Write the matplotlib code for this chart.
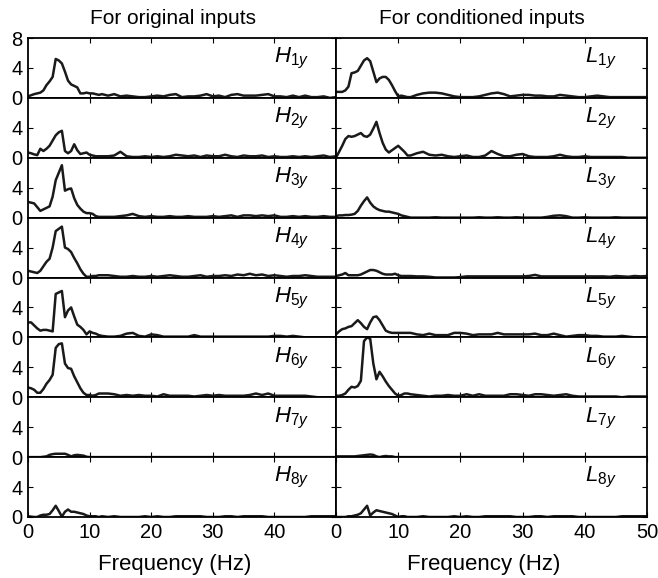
import numpy as np
import matplotlib
matplotlib.use("Agg")
import matplotlib.pyplot as plt

plt.rcParams['font.family'] = ['Liberation Sans', 'DejaVu Sans']
plt.rcParams['mathtext.fontset'] = 'custom'
plt.rcParams['mathtext.rm'] = 'Liberation Sans'
plt.rcParams['mathtext.it'] = 'Liberation Sans:italic'

# 0.5 Hz steps up to 12 Hz, 1 Hz steps after that
freq = np.concatenate([np.arange(0, 12.5, 0.5), np.arange(13, 51)])

# original inputs
h1 = [0.2, 0.35, 0.5, 0.6, 0.7, 1.0, 1.7, 2.2, 2.8, 5.2, 5.0, 4.6, 3.5, 2.3, 1.8, 1.6, 1.4, 0.6, 0.6, 0.7, 0.6, 0.6, 0.5, 0.4, 0.5,
      0.3, 0.5, 0.2, 0.3, 0.2, 0.1, 0.1, 0.2, 0.3, 0.2, 0.4, 0.5, 0.1, 0.2, 0.2, 0.3, 0.5, 0.2, 0.3, 0.1,
      0.4, 0.5, 0.3, 0.3, 0.3, 0.4, 0.5, 0.2, 0.2, 0.1, 0.3, 0.1, 0.3, 0.1, 0.1, 0.2, 0.0, 0.1]
h2 = [0.7, 0.6, 0.45, 0.35, 1.2, 0.9, 1.2, 1.6, 2.3, 3.0, 3.4, 3.6, 0.9, 0.6, 0.9, 1.8, 1.0, 0.5, 0.6, 0.7, 0.4, 0.3, 0.2, 0.2, 0.2,
      0.2, 0.3, 0.8, 0.2, 0.1, 0.1, 0.2, 0.1, 0.2, 0.1, 0.2, 0.4, 0.3, 0.2, 0.3, 0.1, 0.3, 0.2, 0.2, 0.4,
      0.2, 0.1, 0.3, 0.2, 0.2, 0.3, 0.1, 0.2, 0.1, 0.1, 0.2, 0.1, 0.2, 0.1, 0.2, 0.3, 0.1, 0.2]
h3 = [2.1, 2.0, 1.9, 1.4, 0.9, 1.1, 1.3, 1.5, 2.8, 5.0, 6.0, 7.0, 3.6, 3.8, 3.9, 2.6, 1.7, 1.2, 0.8, 0.6, 0.6, 0.5, 0.2, 0.1, 0.1,
      0.1, 0.1, 0.2, 0.3, 0.5, 0.2, 0.1, 0.2, 0.1, 0.1, 0.2, 0.1, 0.1, 0.2, 0.1, 0.1, 0.1, 0.2, 0.1, 0.2,
      0.3, 0.1, 0.3, 0.3, 0.2, 0.3, 0.2, 0.3, 0.1, 0.1, 0.2, 0.1, 0.2, 0.1, 0.1, 0.2, 0.1, 0.1]
h4 = [0.9, 0.8, 0.7, 0.6, 0.9, 1.5, 2.1, 2.5, 4.0, 6.2, 6.5, 6.8, 4.0, 3.8, 3.4, 2.6, 1.9, 1.1, 0.5, 0.1, 0.1, 0.2, 0.2, 0.3, 0.3,
      0.3, 0.2, 0.1, 0.1, 0.2, 0.1, 0.1, 0.2, 0.1, 0.2, 0.3, 0.2, 0.1, 0.1, 0.2, 0.3, 0.1, 0.2, 0.2, 0.3,
      0.2, 0.4, 0.3, 0.5, 0.3, 0.4, 0.2, 0.3, 0.2, 0.1, 0.2, 0.2, 0.3, 0.2, 0.1, 0.1, 0.1, 0.1]
h5 = [2.0, 2.0, 1.6, 1.2, 0.9, 1.0, 1.0, 0.9, 0.8, 5.8, 6.0, 6.2, 2.7, 3.6, 4.0, 2.8, 1.7, 1.4, 1.0, 0.4, 0.8, 0.6, 0.5, 0.3, 0.2,
      0.1, 0.1, 0.2, 0.5, 0.6, 0.2, 0.1, 0.4, 0.3, 0.1, 0.1, 0.1, 0.1, 0.1, 0.3, 0.1, 0.1, 0.1, 0.1, 0.1,
      0.1, 0.1, 0.1, 0.1, 0.1, 0.1, 0.1, 0.2, 0.2, 0.1, 0.2, 0.1, 0.0, 0.0, 0.0, 0.0, 0.0, 0.0]
h6 = [1.3, 1.2, 1.0, 0.6, 0.6, 1.1, 1.8, 2.3, 3.0, 6.6, 7.1, 7.2, 4.5, 3.9, 3.8, 2.8, 2.0, 1.2, 0.6, 0.3, 0.3, 0.2, 0.3, 0.5, 0.5,
      0.5, 0.4, 0.2, 0.3, 0.2, 0.3, 0.2, 0.2, 0.1, 0.4, 0.2, 0.2, 0.2, 0.2, 0.1, 0.2, 0.3, 0.2, 0.3, 0.2,
      0.2, 0.2, 0.2, 0.3, 0.5, 0.3, 0.5, 0.2, 0.2, 0.2, 0.2, 0.2, 0.2, 0.1, 0.0, 0.0, 0.0, 0.0]
h7 = [0.0, 0.0, 0.0, 0.0, 0.0, 0.05, 0.1, 0.3, 0.4, 0.45, 0.45, 0.45, 0.45, 0.3, 0.1, 0.25, 0.3, 0.25, 0.2, 0.05, 0.0, 0.0, 0.0, 0.0, 0.0,
      0.0, 0.0, 0.0, 0.0, 0.0, 0.0, 0.0, 0.0, 0.0, 0.0, 0.0, 0.0, 0.0, 0.0, 0.0, 0.0, 0.0, 0.0, 0.0, 0.0,
      0.0, 0.0, 0.0, 0.0, 0.0, 0.0, 0.0, 0.0, 0.0, 0.0, 0.0, 0.0, 0.0, 0.0, 0.0, 0.0, 0.0, 0.0]
h8 = [0.1, 0.05, 0.0, 0.0, 0.2, 0.3, 0.3, 0.4, 0.9, 1.5, 0.8, 0.05, 0.7, 1.0, 0.7, 0.7, 0.6, 0.5, 0.4, 0.2, 0.1, 0.1, 0.1, 0.0, 0.1,
      0.0, 0.1, 0.0, 0.0, 0.0, 0.0, 0.1, 0.0, 0.1, 0.0, 0.0, 0.1, 0.1, 0.1, 0.1, 0.1, 0.0, 0.0, 0.0, 0.1,
      0.1, 0.0, 0.1, 0.1, 0.1, 0.1, 0.0, 0.0, 0.0, 0.0, 0.0, 0.0, 0.0, 0.1, 0.1, 0.1, 0.1, 0.1]

# conditioned inputs
l1 = [0.8, 0.8, 0.8, 1.0, 1.5, 3.3, 3.4, 3.6, 4.3, 5.0, 5.3, 4.9, 3.5, 2.1, 2.6, 2.8, 2.8, 2.4, 1.7, 0.9, 0.2, 0.3, 0.2, 0.1, 0.1,
      0.4, 0.6, 0.7, 0.7, 0.6, 0.4, 0.2, 0.1, 0.1, 0.1, 0.2, 0.4, 0.6, 0.7, 0.5, 0.2, 0.3, 0.4, 0.4, 0.3,
      0.3, 0.2, 0.2, 0.4, 0.3, 0.2, 0.1, 0.1, 0.2, 0.3, 0.2, 0.1, 0.1, 0.1, 0.1, 0.1, 0.1, 0.1]
l2 = [0.0, 0.8, 1.6, 2.5, 2.9, 2.8, 2.9, 3.1, 3.3, 2.9, 2.8, 3.1, 3.9, 4.8, 3.3, 2.0, 1.1, 0.7, 1.0, 1.3, 1.6, 1.2, 0.8, 0.3, 0.3,
      0.6, 0.8, 0.4, 0.3, 0.4, 0.2, 0.1, 0.2, 0.3, 0.1, 0.1, 0.3, 0.9, 0.5, 0.2, 0.2, 0.4, 0.5, 0.2, 0.1,
      0.1, 0.1, 0.2, 0.4, 0.2, 0.1, 0.1, 0.2, 0.1, 0.1, 0.1, 0.1, 0.1, 0.1, 0.0, 0.0, 0.0, 0.0]
l3 = [0.2, 0.3, 0.3, 0.35, 0.35, 0.4, 0.5, 0.9, 1.6, 2.2, 2.7, 2.0, 1.5, 1.2, 1.0, 0.9, 0.8, 0.8, 0.7, 0.6, 0.5, 0.3, 0.2, 0.1, 0.0,
      0.0, 0.0, 0.0, 0.05, 0.0, 0.0, 0.0, 0.0, 0.0, 0.0, 0.05, 0.0, 0.0, 0.05, 0.0, 0.0, 0.05, 0.0, 0.0, 0.0,
      0.0, 0.1, 0.25, 0.3, 0.2, 0.0, 0.0, 0.05, 0.0, 0.0, 0.0, 0.0, 0.05, 0.0, 0.0, 0.0, 0.0, 0.0]
l4 = [0.2, 0.3, 0.4, 0.6, 0.3, 0.3, 0.3, 0.3, 0.4, 0.6, 0.8, 1.0, 1.0, 0.9, 0.7, 0.5, 0.4, 0.4, 0.4, 0.5, 0.3, 0.2, 0.2, 0.2, 0.2,
      0.15, 0.15, 0.1, 0.0, 0.0, 0.0, 0.0, 0.05, 0.15, 0.15, 0.15, 0.15, 0.15, 0.15, 0.15, 0.15, 0.15, 0.15, 0.2, 0.35,
      0.15, 0.15, 0.15, 0.15, 0.15, 0.15, 0.15, 0.15, 0.15, 0.15, 0.15, 0.1, 0.2, 0.15, 0.1, 0.2, 0.15, 0.2]
l5 = [0.4, 0.8, 1.1, 1.2, 1.4, 1.5, 1.9, 2.3, 1.9, 1.4, 1.1, 2.0, 2.7, 2.8, 2.3, 1.6, 0.9, 0.7, 0.6, 0.6, 0.6, 0.6, 0.6, 0.6, 0.6,
      0.4, 0.3, 0.5, 0.3, 0.3, 0.3, 0.6, 0.6, 0.5, 0.3, 0.4, 0.4, 0.4, 0.6, 0.4, 0.4, 0.4, 0.4, 0.4, 0.5,
      0.3, 0.3, 0.5, 0.3, 0.1, 0.2, 0.3, 0.3, 0.2, 0.2, 0.1, 0.1, 0.1, 0.2, 0.1, 0.0, 0.0, 0.0]
l6 = [0.2, 0.2, 0.3, 0.5, 1.0, 1.4, 1.3, 1.5, 2.2, 7.5, 8.0, 7.8, 4.5, 2.4, 3.4, 2.8, 2.1, 1.5, 1.0, 0.5, 0.2, 0.3, 0.5, 0.5, 0.4,
      0.3, 0.2, 0.1, 0.2, 0.2, 0.3, 0.2, 0.2, 0.4, 0.2, 0.4, 0.2, 0.2, 0.2, 0.2, 0.4, 0.4, 0.3, 0.2, 0.4,
      0.4, 0.3, 0.2, 0.3, 0.4, 0.2, 0.1, 0.1, 0.1, 0.1, 0.1, 0.1, 0.1, 0.0, 0.1, 0.1, 0.1, 0.1]
l7 = [0.1, 0.1, 0.1, 0.1, 0.1, 0.1, 0.1, 0.15, 0.2, 0.25, 0.3, 0.35, 0.3, 0.1, 0.0, 0.1, 0.15, 0.1, 0.1, 0.0, 0.0, 0.0, 0.0, 0.0, 0.0,
      0.0, 0.0, 0.0, 0.0, 0.0, 0.0, 0.0, 0.0, 0.0, 0.0, 0.0, 0.0, 0.0, 0.0, 0.0, 0.0, 0.0, 0.0, 0.0, 0.0,
      0.0, 0.0, 0.0, 0.0, 0.0, 0.0, 0.0, 0.0, 0.0, 0.0, 0.0, 0.0, 0.0, 0.0, 0.0, 0.0, 0.0, 0.0]
l8 = [0.0, 0.0, 0.0, 0.0, 0.1, 0.1, 0.2, 0.3, 0.5, 1.0, 1.5, 0.2, 0.6, 0.9, 0.8, 0.7, 0.6, 0.5, 0.4, 0.2, 0.0, 0.1, 0.1, 0.0, 0.0,
      0.0, 0.1, 0.0, 0.0, 0.0, 0.0, 0.1, 0.0, 0.1, 0.0, 0.0, 0.1, 0.1, 0.1, 0.1, 0.1, 0.0, 0.0, 0.0, 0.1,
      0.1, 0.0, 0.1, 0.1, 0.1, 0.1, 0.0, 0.0, 0.0, 0.0, 0.0, 0.0, 0.0, 0.1, 0.1, 0.1, 0.1, 0.1]

orig = [h1, h2, h3, h4, h5, h6, h7, h8]
cond = [l1, l2, l3, l4, l5, l6, l7, l8]
titles = ['For original inputs', 'For conditioned inputs']
letters = ['H', 'L']

W, H = 658, 578
fig = plt.figure(figsize=(W / 100, H / 100), dpi=100)

top_px, bot_px = 38, 517
row_h = (bot_px - top_px) / 8
cols = [(28, 308), (336, 311)]

for c, (series, letter) in enumerate(zip([orig, cond], letters)):
    x0, w = cols[c]
    for r in range(8):
        y_top = top_px + r * row_h
        ax = fig.add_axes([x0 / W, 1 - (y_top + row_h) / H, w / W, row_h / H])
        ax.plot(freq, series[r], color='#1a1a1a', lw=1.8)
        ax.set_xlim(0, 50)
        ax.set_ylim(0, 8)
        for sp in ax.spines.values():
            sp.set_linewidth(1.3)
        ax.tick_params(direction='in', length=3.5, width=0.8, top=True, right=True,
                       labelsize=14.5, pad=4)
        ax.set_yticks([0, 4, 8] if r == 0 else [0, 4])
        if c == 1:
            ax.set_yticklabels([])
        if r == 7:
            ax.set_xticks([0, 10, 20, 30, 40, 50])
            if c == 0:
                ax.set_xticklabels(['0', '10', '20', '30', '40', ''])
            ax.set_xlabel('Frequency (Hz)', fontsize=16, labelpad=10)
            ax.xaxis.set_label_coords(0.475, -0.62)
        else:
            ax.set_xticks([10, 20, 30, 40])
            ax.set_xticklabels([])
        ax.text(40, 4.7, r'$%s_{%dy}$' % (letter, r + 1), fontsize=16)
        if r == 0:
            ax.set_title(titles[c], fontsize=15, pad=10, x=0.47)

fig.savefig('out.png', dpi=100)
